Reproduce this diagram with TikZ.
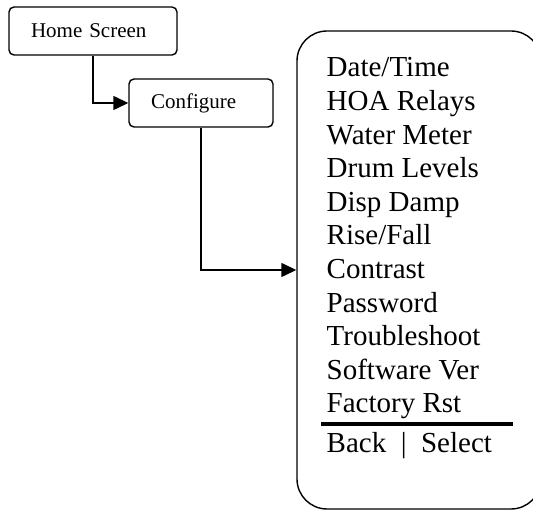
\documentclass[tikz,border=0pt]{standalone}
\usepackage{fontspec}
\setmainfont{Liberation Serif}
\usetikzlibrary{arrows.meta}
\begin{document}
\begin{tikzpicture}[x=1pt,y=-1pt,line width=1.4pt,
	screen/.style={draw,rounded corners=5pt,minimum height=48pt,inner xsep=22pt,align=left,font=\fontsize{21}{25}\selectfont},
	menubox/.style={draw,rounded corners=30pt,minimum width=244pt,minimum height=478pt},
	entry/.style={anchor=base west,inner sep=0pt,font=\fontsize{29}{34}\selectfont},
	go/.style={-{Triangle[length=15pt,width=14pt]}}]
	\useasboundingbox (0,0) rectangle (533,510);
	\node[screen,text width=124pt] (home) at (93,31) {Home Screen};
	\node[screen,text width=100pt] (conf) at (201,103) {Configure};
	\node[menubox] (menu) at (419,270) {};
	\foreach \name [count=\i from 0] in {Date/Time,HOA Relays,Water Meter,Drum Levels,Disp Damp,Rise/Fall,Contrast,Password,Troubleshoot,Software Ver,Factory Rst}
		\node[entry] (item\i) at (326,{77+33.6*\i}) {\name};
	\draw[line width=4pt] (321,424) -- (513,424);
	\node[entry] (keys) at (326,453) {Back\enspace|\enspace Select};
	\draw[go] (home.south) |- (conf.west);
	\draw[go] (conf.south) |- (menu.west);
\end{tikzpicture}
\end{document}
